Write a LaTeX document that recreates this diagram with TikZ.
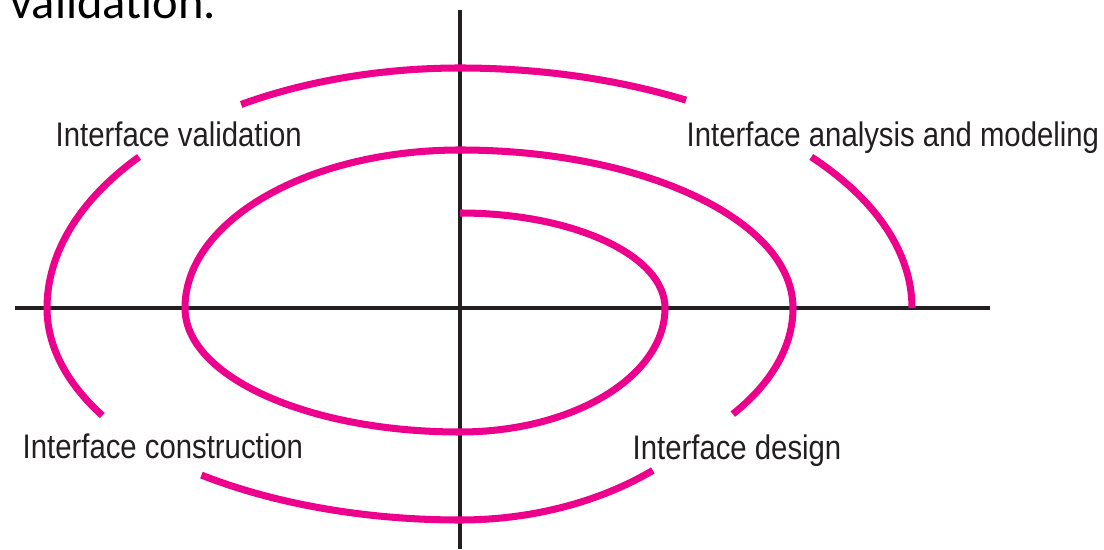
\documentclass[tikz,border=0pt]{standalone}
\usepackage{fontspec}
\setmainfont[FakeStretch=0.86]{Liberation Sans}
\newfontfamily\slidefont{Carlito}
\definecolor{spiralpink}{RGB}{236,0,140}
\definecolor{axisgray}{RGB}{35,31,32}
\begin{document}
\begin{tikzpicture}[spiral/.style = {spiralpink, line width = 2pt},
		axis/.style = {axisgray, line width = 1pt},
		phase/.style = {anchor = base west, inner sep = 0pt, text = axisgray, font = \fontsize{9.7}{11}\selectfont}]
		\useasboundingbox (-4.60,-2.41) rectangle (6.44,3.08);
		\clip (-4.60,-2.41) rectangle (6.44,3.08);
		\node (cut) at (-4.50,2.89)[anchor = base west, inner sep = 0pt, font = \slidefont\fontsize{13.8}{16}\selectfont]{validation.};
		\coordinate (W) at (-4.45,0);
		\coordinate (E) at (5.30,0);
		\coordinate (N) at (0,2.98);
		\coordinate (S) at (0,-2.41);
		\draw [axis] (W)--(E);
		\draw [axis] (N)--(S);
		\draw [spiral] (0,0.95) arc[start angle = 90, end angle = 0, x radius = 2.05, y radius = 0.95]
			arc[start angle = 0, end angle = -90, x radius = 2.05, y radius = 1.24]
			arc[start angle = 270, end angle = 180, x radius = 2.75, y radius = 1.24]
			arc[start angle = 180, end angle = 90, x radius = 2.75, y radius = 1.58]
			arc[start angle = 90, end angle = 0, x radius = 3.33, y radius = 1.58]
			arc[start angle = 0, end angle = -35, x radius = 3.33, y radius = 1.85];
		\draw [spiral] ({3.0*cos(-50)},{2.12*sin(-50)}) arc[start angle = -50, end angle = -90, x radius = 3.0, y radius = 2.12]
			arc[start angle = 270, end angle = 232, x radius = 4.2, y radius = 2.12];
		\draw [spiral] ({4.13*cos(210)},{2.15*sin(210)}) arc[start angle = 210, end angle = 180, x radius = 4.13, y radius = 2.15]
			arc[start angle = 180, end angle = 141, x radius = 4.13, y radius = 2.40];
		\draw [spiral] ({4.13*cos(122)},{2.40*sin(122)}) arc[start angle = 122, end angle = 90, x radius = 4.13, y radius = 2.40]
			arc[start angle = 90, end angle = 60, x radius = 4.52, y radius = 2.40];
		\draw [spiral] ({4.52*cos(39)},{2.40*sin(39)}) arc[start angle = 39, end angle = 0, x radius = 4.52, y radius = 2.40];
		\node (valid) at (-4.05,1.61)[phase]{Interface validation};
		\node (analysis) at (2.26,1.61)[phase]{Interface analysis and modeling};
		\node (construct) at (-4.38,-1.50)[phase]{Interface construction};
		\node (design) at (1.72,-1.51)[phase]{Interface design};
	\end{tikzpicture}
\end{document}
